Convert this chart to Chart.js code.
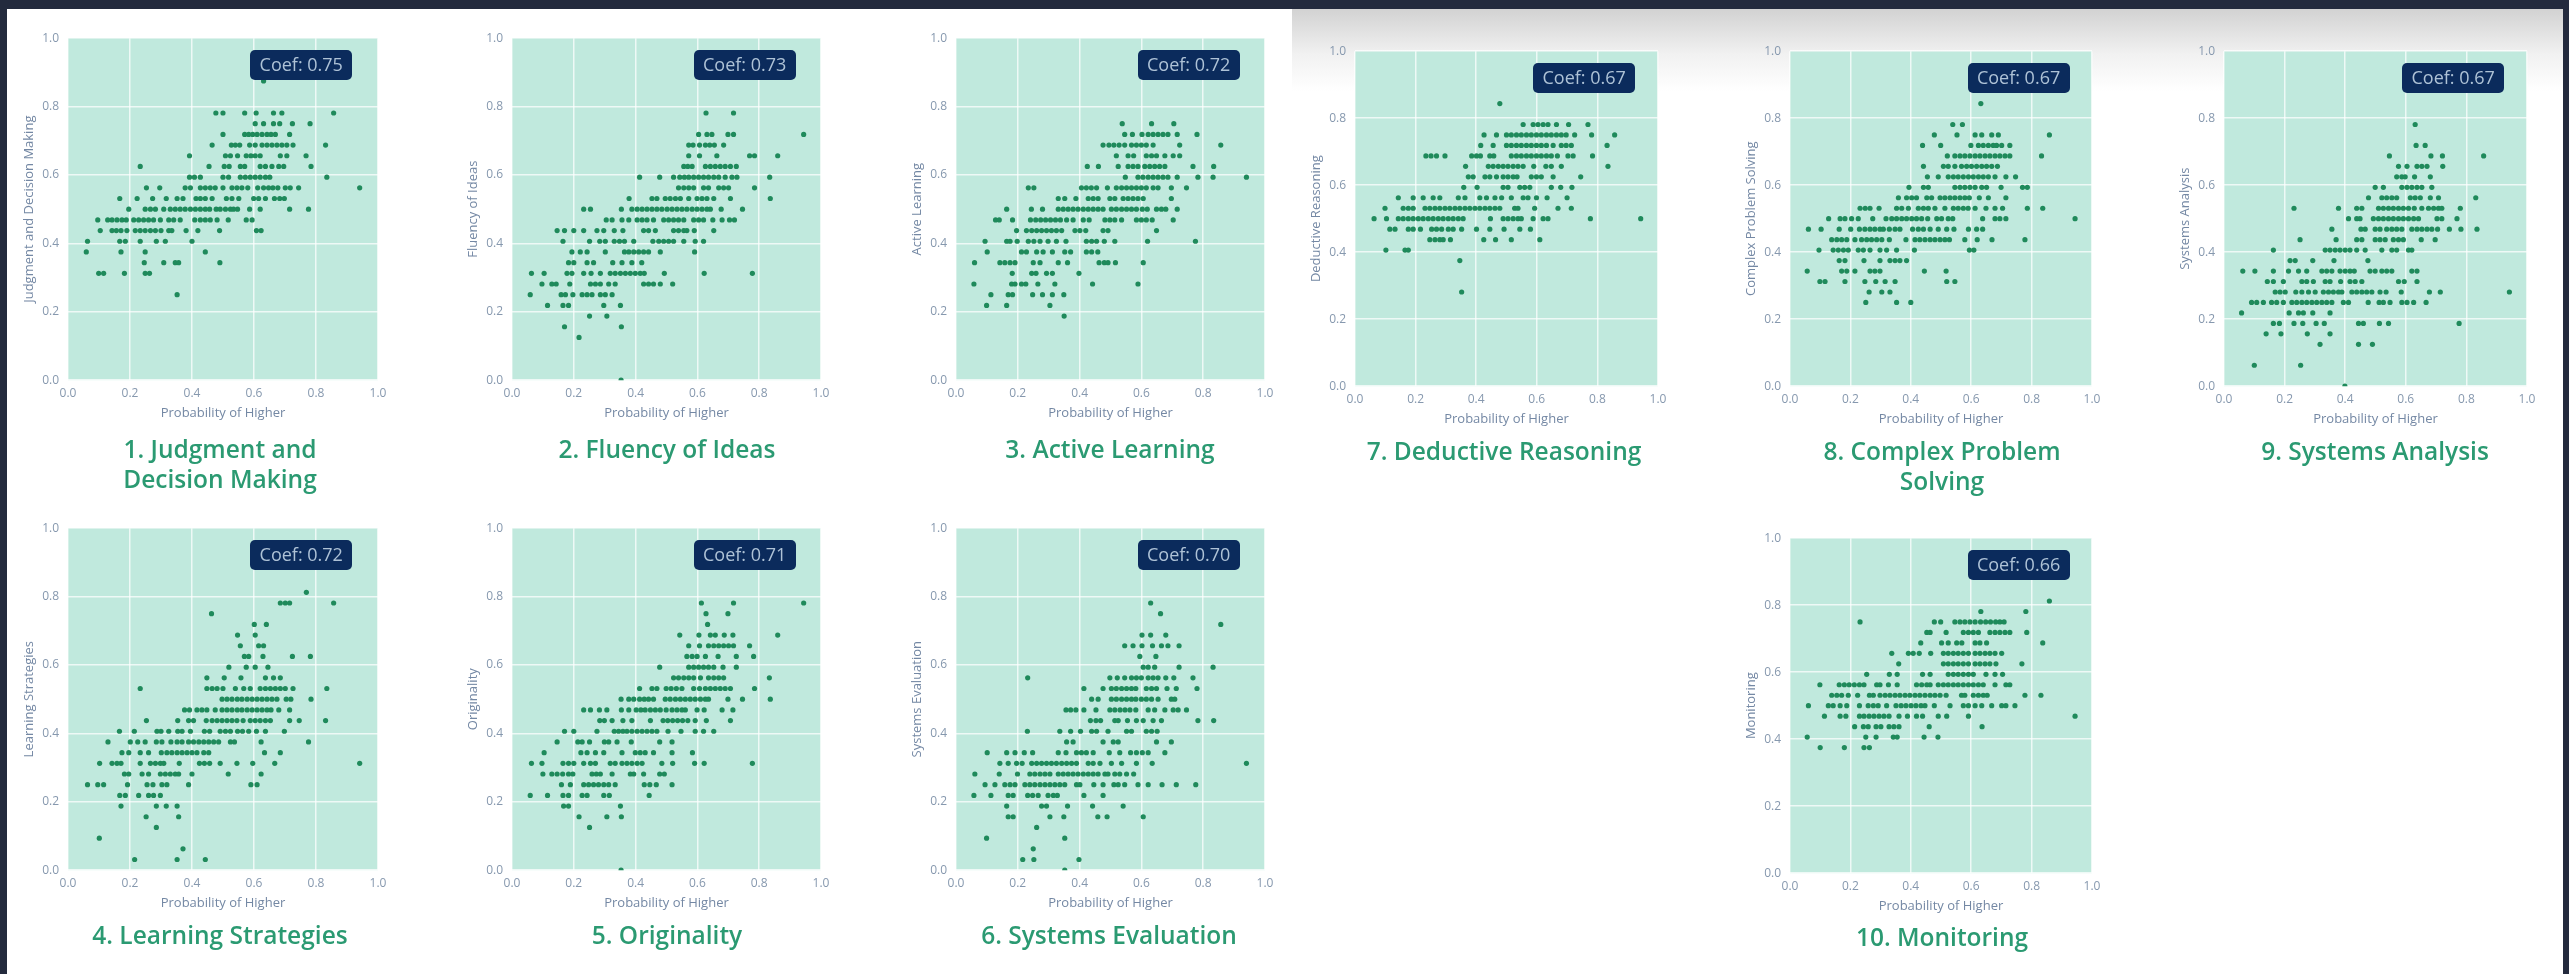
<!DOCTYPE html>
<html>
<head>
<meta charset="utf-8">
<script src="https://cdn.jsdelivr.net/npm/chart.js"></script>
<style>
  html, body { margin: 0; padding: 0; background: #fff; }
  body { position: relative; width: 2569px; height: 974px; overflow: hidden; font-family: "Open Sans", sans-serif; }
  .frame { position: absolute; background: #232a3d; }
  #shadow { position: absolute; left: 1292px; top: 9px; width: 1271px; height: 82px;
            background: linear-gradient(#d2d2d2, #f1f1f1 55%, #fff); }
  canvas { position: absolute; filter: blur(.6px); }
  .badge { position: absolute; box-sizing: border-box; background: #0b2b5c; color: #aec2d6; border-radius: 5px;
           font-size: 18px; text-align: center; filter: blur(.5px); }
  .name { position: absolute; width: 400px; text-align: center; color: #2b9a72; font-size: 24.5px; font-weight: 600;
          line-height: 30px; filter: blur(.5px); }
</style>
</head>
<body>
<div id="shadow"></div>
<div class="frame" style="left:0;top:0;width:2569px;height:9px"></div>
<div class="frame" style="left:0;top:0;width:7px;height:974px"></div>
<div class="frame" style="left:2563px;top:0;width:6px;height:974px"></div>

<script>

const xAxisName = 'Probability of Higher';
const names = ['Judgment and Decision Making', 'Fluency of Ideas', 'Active Learning', 'Learning Strategies', 'Originality',
  'Systems Evaluation', 'Deductive Reasoning', 'Complex Problem Solving', 'Systems Analysis', 'Monitoring'];
const titles = [['1. Judgment and', 'Decision Making'], ['2. Fluency of Ideas'], ['3. Active Learning'], ['4. Learning Strategies'],
  ['5. Originality'], ['6. Systems Evaluation'], ['7. Deductive Reasoning'], ['8. Complex Problem', 'Solving'],
  ['9. Systems Analysis'], ['10. Monitoring']];
const coefs = ['0.75', '0.73', '0.72', '0.72', '0.71', '0.70', '0.67', '0.67', '0.67', '0.66'];

// every row is [y, x values at that y]
const judgmentRows = [
  [.875, [.631]],
  [.78125, [.477,.5,.57,.607,.663,.69,.857]],
  [.75, [.604,.631,.663,.683,.724,.781]],
  [.71875, [.5,.57,.583,.596,.61,.626,.642,.655,.669,.715]],
  [.6875, [.465,.527,.54,.554,.586,.604,.626,.642,.658,.674,.69,.706,.726,.831]],
  [.65625, [.392,.508,.524,.547,.575,.59,.604,.62,.685,.706,.768]],
  [.625, [.233,.455,.504,.52,.556,.57,.62,.637,.658,.68,.696,.784]],
  [.59375, [.392,.408,.427,.5,.518,.556,.572,.588,.604,.62,.637,.651,.835]],
  [.5625, [.253,.296,.378,.395,.427,.443,.459,.475,.5,.529,.545,.561,.58,.612,.631,.647,.661,.677,.701,.717,.744,.941]],
  [.53125, [.167,.223,.273,.317,.352,.371,.413,.427,.443,.465,.511,.529,.551,.599,.615,.637,.666,.683,.698]],
  [.5, [.196,.249,.266,.282,.309,.33,.346,.362,.378,.395,.411,.427,.443,.457,.478,.491,.508,.524,.534,.547,.586,.62,.715,.776]],
  [.46875, [.096,.128,.142,.158,.174,.188,.212,.228,.244,.26,.276,.298,.325,.341,.362,.409,.427,.443,.459,.481,.517,.575,.594]],
  [.4375, [.104,.142,.156,.171,.19,.217,.233,.249,.266,.282,.3,.325,.335,.381,.419,.489,.608,.623]],
  [.40625, [.063,.167,.185,.233,.285,.314,.4]],
  [.375, [.059,.171,.249,.443]],
  [.34375, [.246,.309,.346,.357,.49]],
  [.3125, [.099,.115,.182,.249,.263]],
  [.25, [.352]]
];
const fluencyRows = [
  [.78125, [.628,.717]],
  [.71875, [.604,.631,.647,.699,.717,.944]],
  [.6875, [.572,.586,.607,.626,.64,.655,.685]],
  [.65625, [.572,.607,.663,.769,.785,.86]],
  [.625, [.556,.569,.583,.626,.642,.658,.674,.69,.707,.726]],
  [.59375, [.413,.478,.523,.543,.558,.572,.588,.604,.62,.636,.653,.669,.69,.712,.728,.834]],
  [.5625, [.539,.556,.572,.588,.62,.636,.669,.685,.701,.785]],
  [.53125, [.379,.453,.469,.496,.512,.529,.545,.572,.599,.615,.631,.653,.707,.836]],
  [.5, [.232,.254,.354,.388,.405,.421,.437,.453,.469,.485,.502,.518,.534,.55,.566,.583,.599,.615,.631,.642,.677,.746]],
  [.46875, [.305,.324,.356,.378,.405,.421,.437,.458,.491,.507,.523,.539,.556,.588,.604,.62,.65,.68,.704,.72]],
  [.4375, [.146,.17,.2,.232,.275,.297,.331,.359,.426,.442,.464,.523,.539,.556,.566,.59,.653]],
  [.40625, [.165,.251,.284,.302,.331,.348,.364,.394,.456,.475,.491,.507,.523,.556,.593,.62]],
  [.375, [.194,.221,.243,.302,.364,.378,.394,.41,.426,.442,.48,.591]],
  [.34375, [.183,.2,.243,.264,.326,.356,.388,.42]],
  [.3125, [.063,.104,.178,.194,.232,.256,.286,.318,.334,.351,.367,.383,.399,.415,.428,.493,.622,.778]],
  [.28125, [.097,.129,.143,.187,.254,.27,.286,.313,.334,.426,.442,.458,.48,.52]],
  [.25, [.059,.159,.173,.197,.227,.243,.259,.286,.302,.324]],
  [.21875, [.115,.165,.183,.297,.351]],
  [.1875, [.251,.307]],
  [.15625, [.17,.354]],
  [.125, [.217]],
  [0, [.353]]
];
const activeRows = [
  [.75, [.538,.633,.705]],
  [.71875, [.546,.571,.602,.622,.638,.654,.67,.686,.716,.78]],
  [.6875, [.476,.495,.511,.528,.546,.568,.584,.6,.616,.638,.724,.857]],
  [.65625, [.519,.557,.575,.616,.633,.649,.676,.703,.724]],
  [.625, [.425,.461,.525,.557,.573,.589,.611,.627,.643,.659,.676,.767,.834]],
  [.59375, [.548,.589,.605,.622,.638,.654,.67,.686,.716,.783,.832,.94]],
  [.5625, [.234,.252,.406,.422,.438,.455,.49,.519,.536,.552,.568,.584,.6,.616,.638,.654,.697,.746]],
  [.53125, [.331,.352,.388,.428,.444,.46,.498,.514,.541,.557,.573,.589,.606,.697]],
  [.5, [.164,.244,.28,.331,.347,.363,.379,.395,.412,.428,.444,.46,.476,.503,.519,.536,.552,.568,.584,.603,.619,.649,.665,.679,.716]],
  [.46875, [.128,.14,.183,.241,.258,.274,.29,.306,.322,.338,.358,.379,.412,.431,.482,.498,.514,.536,.584,.6,.616,.635,.703]],
  [.4375, [.196,.228,.245,.261,.277,.293,.309,.325,.342,.385,.401,.42,.476,.492,.649]],
  [.40625, [.094,.164,.175,.198,.234,.252,.272,.298,.325,.356,.422,.439,.455,.48,.514,.62,.775]],
  [.375, [.101,.212,.228,.261,.282,.312,.352,.371,.422,.439,.459]],
  [.34375, [.06,.142,.158,.175,.191,.25,.272,.331,.361,.463,.48,.492,.516,.606]],
  [.3125, [.182,.245,.259,.293,.312,.398]],
  [.28125, [.058,.18,.191,.212,.226,.265,.32,.442,.589]],
  [.25, [.113,.169,.183,.248,.28,.312,.349]],
  [.21875, [.099,.164,.304]],
  [.1875, [.35]]
];
const strategiesRows = [
  [.8125, [.769]],
  [.78125, [.685,.701,.715,.857]],
  [.75, [.463]],
  [.71875, [.601,.64]],
  [.6875, [.547,.604]],
  [.65625, [.556,.615,.631]],
  [.625, [.569,.583,.629,.724,.782]],
  [.59375, [.519,.575,.604,.645]],
  [.5625, [.448,.504,.558,.637,.663,.685]],
  [.53125, [.233,.448,.465,.481,.5,.54,.567,.588,.62,.637,.653,.669,.685,.701,.726,.835]],
  [.5, [.497,.513,.529,.546,.561,.578,.594,.61,.626,.642,.658,.674,.704,.719,.784]],
  [.46875, [.376,.392,.416,.432,.448,.475,.497,.513,.529,.546,.561,.578,.594,.61,.626,.642,.655,.68,.715]],
  [.4375, [.253,.354,.389,.405,.446,.465,.481,.497,.513,.529,.545,.565,.588,.604,.62,.637,.653,.715,.746,.831]],
  [.40625, [.166,.214,.287,.3,.325,.354,.368,.395,.44,.457,.491,.508,.524,.547,.563,.583,.608,.637,.698]],
  [.375, [.129,.201,.225,.249,.285,.303,.332,.352,.368,.389,.405,.422,.438,.454,.47,.486,.524,.537,.623,.776]],
  [.34375, [.174,.196,.233,.26,.301,.319,.335,.352,.368,.384,.4,.416,.438,.454,.634,.685]],
  [.3125, [.102,.142,.158,.171,.233,.266,.282,.298,.309,.359,.424,.44,.457,.491,.545,.596,.667,.941]],
  [.28125, [.182,.196,.239,.26,.298,.314,.33,.346,.357,.4,.517,.623]],
  [.25, [.063,.096,.115,.192,.255,.274,.303,.319,.389,.59,.61]],
  [.21875, [.167,.185,.228,.26,.276,.298]],
  [.1875, [.171,.285,.317,.352]],
  [.15625, [.252,.357]],
  [.125, [.285]],
  [.09375, [.101]],
  [.0625, [.371]],
  [.03125, [.215,.352,.443]]
];
const originalityRows = [
  [.78125, [.613,.717,.944]],
  [.75, [.628,.699]],
  [.71875, [.633]],
  [.6875, [.543,.605,.642,.658,.687,.715,.86]],
  [.65625, [.572,.607,.636,.653,.669,.685,.701,.717,.769]],
  [.625, [.566,.583,.599,.626,.667,.726,.782]],
  [.59375, [.478,.572,.588,.604,.62,.636,.653,.683,.726]],
  [.5625, [.523,.539,.556,.572,.588,.61,.636,.653,.669,.685,.833]],
  [.53125, [.413,.453,.469,.499,.515,.532,.55,.588,.607,.626,.642,.658,.674,.69,.707,.785]],
  [.5, [.353,.378,.394,.413,.428,.442,.458,.496,.512,.529,.545,.561,.577,.593,.61,.626,.636,.699,.746,.836]],
  [.46875, [.232,.254,.283,.307,.354,.378,.402,.417,.431,.448,.464,.48,.499,.518,.534,.55,.561,.599,.622,.68,.715]],
  [.4375, [.284,.299,.324,.359,.388,.448,.489,.504,.52,.536,.552,.569,.593,.629,.707]],
  [.40625, [.17,.2,.275,.331,.345,.359,.372,.388,.405,.421,.437,.453,.469,.505,.547,.593,.62,.653]],
  [.375, [.146,.213,.227,.251,.299,.313,.34,.386,.478,.518]],
  [.34375, [.104,.223,.243,.27,.297,.356,.399,.415,.431,.458,.518,.584]],
  [.3125, [.063,.097,.165,.183,.2,.232,.254,.27,.318,.334,.356,.372,.388,.405,.421,.485,.52,.591,.622,.778]],
  [.28125, [.1,.129,.146,.164,.183,.197,.259,.273,.286,.324,.383,.394,.426,.478,.493]],
  [.25, [.16,.189,.232,.248,.264,.28,.297,.313,.334,.428,.446,.467,.518]],
  [.21875, [.059,.115,.165,.183,.227,.243,.297,.315,.444]],
  [.1875, [.167,.183,.351]],
  [.15625, [.217,.307,.354]],
  [.125, [.251]],
  [0, [.353]]
];
const evaluationRows = [
  [.78125, [.63]],
  [.75, [.662]],
  [.71875, [.857]],
  [.6875, [.602,.63,.679]],
  [.65625, [.546,.573,.602,.636,.665,.686,.722]],
  [.625, [.595,.647]],
  [.59375, [.606,.622,.643,.722,.832]],
  [.5625, [.232,.498,.522,.546,.568,.584,.6,.622,.638,.654,.679,.705,.767]],
  [.53125, [.414,.476,.503,.519,.536,.552,.568,.582,.616,.633,.649,.683,.713,.78]],
  [.5, [.439,.46,.503,.519,.536,.552,.568,.582,.6,.616,.633,.654,.697,.708]],
  [.46875, [.356,.371,.388,.414,.453,.498,.514,.531,.547,.563,.582,.622,.643,.676,.703,.719,.746]],
  [.4375, [.435,.453,.468,.514,.525,.555,.584,.606,.638,.665,.783,.834]],
  [.40625, [.231,.336,.371,.403,.439,.455,.492,.552,.568,.616,.633,.651]],
  [.375, [.358,.379,.476,.509,.525,.649,.697]],
  [.34375, [.101,.164,.191,.221,.248,.331,.356,.39,.406,.422,.444,.496,.53,.565,.584,.603,.622,.676]],
  [.3125, [.142,.169,.196,.214,.245,.261,.277,.293,.309,.325,.342,.358,.374,.39,.428,.444,.466,.503,.536,.584,.635,.94]],
  [.28125, [.061,.14,.199,.239,.255,.272,.288,.304,.331,.347,.363,.379,.395,.412,.428,.444,.46,.482,.492,.514,.53,.552,.575]],
  [.25, [.094,.126,.158,.175,.191,.223,.239,.255,.272,.288,.304,.32,.336,.352,.39,.401,.446,.476,.511,.525,.546,.589,.622,.667,.713,.776]],
  [.21875, [.058,.113,.169,.185,.232,.248,.266,.298,.315,.328,.414,.476]],
  [.1875, [.164,.277,.293,.361,.442,.541]],
  [.15625, [.169,.185,.304,.349,.459,.489,.606]],
  [.125, [.261]],
  [.09375, [.099,.352]],
  [.0625, [.25]],
  [.03125, [.216,.252,.398]],
  [0, [.352]]
];
const reasoningRows = [
  [.84375, [.478]],
  [.78125, [.555,.588,.604,.621,.637,.665,.705,.769]],
  [.75, [.426,.467,.5,.516,.533,.549,.566,.582,.599,.615,.632,.648,.665,.681,.697,.725,.781,.857]],
  [.71875, [.415,.456,.5,.516,.533,.549,.566,.582,.599,.615,.632,.654,.681,.697,.714,.832]],
  [.6875, [.234,.251,.269,.297,.385,.401,.414,.445,.458,.516,.533,.549,.566,.582,.599,.615,.632,.648,.668,.703,.72,.784]],
  [.65625, [.365,.44,.456,.473,.489,.505,.522,.538,.555,.59,.63,.648,.681,.835]],
  [.625, [.374,.39,.429,.445,.467,.489,.505,.522,.535,.582,.599,.615,.654,.745]],
  [.59375, [.359,.403,.489,.505,.544,.56,.577,.648,.679,.716]],
  [.5625, [.143,.192,.225,.258,.28,.341,.363,.412,.434,.462,.484,.516,.555,.571,.599,.634,.7]],
  [.53125, [.099,.159,.176,.192,.231,.247,.264,.28,.297,.313,.33,.346,.363,.379,.396,.412,.429,.445,.462,.478,.527,.538,.593,.67,.714]],
  [.5, [.063,.104,.143,.159,.176,.192,.209,.225,.242,.258,.275,.291,.308,.324,.341,.357,.447,.489,.505,.522,.538,.549,.588,.621,.637,.777,.943]],
  [.46875, [.115,.132,.176,.192,.216,.253,.269,.286,.308,.324,.352,.401,.445,.492,.544,.579]],
  [.4375, [.247,.264,.28,.291,.315,.425,.464,.516,.61]],
  [.40625, [.102,.165,.176]],
  [.375, [.346]],
  [.28125, [.352]]
];
const problemRows = [
  [.84375, [.632]],
  [.78125, [.539,.571]],
  [.75, [.478,.553,.613,.635,.668,.69,.859]],
  [.71875, [.439,.499,.599,.624,.64,.657,.673,.684,.701,.728]],
  [.6875, [.521,.546,.563,.579,.596,.613,.629,.646,.662,.679,.695,.712,.728,.833]],
  [.65625, [.442,.508,.524,.546,.568,.585,.601,.618,.635,.651,.668,.687]],
  [.625, [.455,.491,.524,.541,.557,.574,.591,.607,.624,.64,.657,.679,.715,.747]],
  [.59375, [.394,.442,.458,.546,.563,.579,.596,.613,.635,.651,.699,.77,.786]],
  [.5625, [.359,.386,.403,.419,.453,.469,.497,.513,.53,.546,.563,.579,.594,.627,.657,.715]],
  [.53125, [.232,.249,.265,.295,.353,.37,.392,.425,.442,.458,.48,.513,.541,.557,.574,.59,.613,.649,.679,.704,.786,.837]],
  [.5, [.128,.166,.182,.204,.226,.274,.318,.337,.353,.37,.386,.403,.419,.436,.456,.486,.502,.524,.539,.638,.679,.695,.715,.944]],
  [.46875, [.061,.103,.163,.201,.23,.248,.265,.281,.298,.309,.329,.348,.364,.406,.425,.442,.464,.491,.519,.543,.591,.618,.638]],
  [.4375, [.138,.155,.171,.188,.215,.237,.254,.27,.287,.304,.329,.384,.414,.43,.447,.464,.48,.497,.513,.528,.579,.62,.669,.778]],
  [.40625, [.096,.143,.16,.177,.193,.226,.243,.265,.298,.32,.353,.412,.594,.609]],
  [.375, [.163,.182,.245,.298,.331,.348,.364,.386]],
  [.34375, [.057,.171,.188,.215,.265,.281,.298,.445,.517]],
  [.3125, [.099,.116,.182,.248,.284,.315,.348,.519,.546]],
  [.28125, [.262,.304,.331]],
  [.25, [.251,.353,.4]]
];
const analysisRows = [
  [.78125, [.631]],
  [.71875, [.634,.664]],
  [.6875, [.546,.683,.721,.857]],
  [.65625, [.576,.604,.637,.653,.67,.722]],
  [.625, [.57,.587,.598,.629,.681]],
  [.59375, [.499,.526,.587,.604,.62,.637,.653,.686]],
  [.5625, [.477,.521,.537,.554,.57,.615,.631,.648,.681,.708,.831]],
  [.53125, [.231,.378,.438,.455,.51,.526,.543,.559,.576,.592,.609,.628,.653,.675,.692,.708,.719,.78]],
  [.5, [.411,.438,.449,.493,.51,.526,.543,.559,.576,.592,.609,.626,.642,.703,.719,.769]],
  [.46875, [.356,.452,.466,.499,.515,.537,.554,.57,.587,.62,.637,.653,.67,.686,.705,.744,.782,.835]],
  [.4375, [.251,.37,.438,.455,.499,.515,.532,.559,.576,.592,.651,.697]],
  [.40625, [.163,.334,.35,.367,.383,.4,.416,.438,.466,.521,.554,.57,.609,.62]],
  [.375, [.218,.235,.293,.363,.475]],
  [.34375, [.062,.102,.163,.213,.246,.273,.323,.339,.356,.383,.4,.416,.43,.482,.499,.521,.537,.554,.62,.637]],
  [.3125, [.143,.163,.196,.257,.273,.295,.334,.35,.385,.416,.433,.455,.576,.595,.637]],
  [.28125, [.169,.185,.202,.237,.257,.279,.301,.328,.345,.361,.378,.389,.422,.438,.455,.471,.488,.515,.535,.585,.678,.714,.942]],
  [.25, [.091,.108,.13,.157,.174,.196,.224,.24,.257,.273,.29,.306,.323,.339,.356,.394,.411,.476,.512,.526,.548,.587,.604,.626,.667]],
  [.21875, [.058,.215,.246,.262,.293,.35]],
  [.1875, [.163,.183,.231,.26,.304,.331,.444,.46,.513,.543,.776]],
  [.15625, [.139,.188,.275,.35]],
  [.125, [.317,.444,.49]],
  [.0625, [.1,.253]],
  [0, [.399]]
];
const monitoringRows = [
  [.8125, [.859]],
  [.78125, [.632,.781]],
  [.75, [.232,.478,.499,.546,.563,.579,.596,.613,.631,.648,.664,.681,.695,.709]],
  [.71875, [.453,.464,.517,.574,.591,.607,.624,.662,.679,.695,.712,.728,.784]],
  [.6875, [.433,.502,.524,.552,.569,.613,.629,.651,.837]],
  [.65625, [.337,.392,.408,.428,.466,.508,.524,.541,.557,.574,.591,.613,.629,.646,.662,.679,.701]],
  [.625, [.36,.508,.524,.541,.557,.574,.591,.613,.629,.646,.662,.682,.768]],
  [.59375, [.254,.329,.355,.439,.464,.524,.541,.557,.574,.591,.607,.649,.679,.704]],
  [.5625, [.099,.163,.18,.196,.213,.23,.245,.287,.298,.326,.355,.419,.436,.453,.464,.491,.508,.524,.541,.557,.574,.591,.607,.624,.64,.679,.715,.728]],
  [.53125, [.138,.155,.171,.193,.224,.263,.276,.298,.315,.331,.348,.364,.381,.397,.414,.43,.447,.464,.48,.497,.517,.568,.579,.607,.624,.64,.653,.778,.831]],
  [.5, [.061,.127,.143,.166,.188,.23,.259,.276,.292,.32,.351,.368,.384,.401,.417,.434,.447,.478,.53,.574,.591,.613,.635,.668,.701,.715,.745]],
  [.46875, [.114,.166,.185,.23,.245,.262,.278,.295,.311,.328,.361,.389,.419,.439,.491,.519,.591,.944]],
  [.4375, [.214,.243,.259,.285,.301,.328,.344,.361,.461,.636]],
  [.40625, [.057,.251,.285,.342,.355,.444,.49]],
  [.375, [.1,.18,.245,.263]]
];
const allRows = [judgmentRows, fluencyRows, activeRows, strategiesRows, originalityRows,
  evaluationRows, reasoningRows, problemRows, analysisRows, monitoringRows];

// where each plot sits in the screenshot: l, t, r, b of the plot area, then title centre x and y
const boxes = [
  [68, 38, 378, 380, 220, 464],
  [512, 38, 821, 380, 667, 449],
  [956, 38, 1265, 380, 1110, 449],
  [68, 528, 378, 870, 220, 935],
  [512, 528, 821, 870, 667, 935],
  [956, 528, 1265, 870, 1109, 935],
  [1355, 51, 1658, 386, 1504, 451],
  [1790, 51, 2092, 386, 1942, 466],
  [2224, 51, 2527, 386, 2375, 451],
  [1790, 538, 2092, 873, 1942, 937]
];

const plotBackground = {
  id: 'plotBackground',
  beforeDraw(chart) {
    const a = chart.chartArea;
    chart.ctx.save();
    chart.ctx.fillStyle = '#c0e9dd';
    chart.ctx.fillRect(a.left, a.top, a.width, a.height);
    chart.ctx.restore();
  }
};

function axisOptions(name, isX) {
  return {
    type: 'linear',
    min: 0,
    max: 1,
    grid: { color: 'rgba(255,255,255,.72)', lineWidth: 1.5, drawTicks: false },
    border: { display: false },
    ticks: { stepSize: 0.2, padding: isX ? 6 : 9, color: '#8698ae', maxRotation: 0, font: { family: 'Open Sans', size: 12 },
      callback: v => v.toFixed(1) },
    title: { display: true, text: name, color: '#7488a4', font: { family: 'Open Sans', size: 13 },
      padding: isX ? { top: 0, bottom: 5 } : { top: 3, bottom: 0 } },
    afterFit(scale) {
      if (isX) scale.height = 46; else scale.width = 50;
    }
  };
}

allRows.forEach(function(rows, i) {
  const [l, t, r, b, cx, cy] = boxes[i];
  const canvas = document.createElement('canvas');
  canvas.width = r - l + 62;
  canvas.height = b - t + 54;
  document.body.appendChild(canvas);

  const points = rows.flatMap(row => row[1].map(x => ({ x: x, y: row[0] })));
  const chart = new Chart(canvas, {
    type: 'scatter',
    data: { datasets: [{ data: points, backgroundColor: '#1f8a5b', borderWidth: 0, pointRadius: 2.6 }] },
    options: {
      responsive: false,
      maintainAspectRatio: false,
      animation: false,
      layout: { autoPadding: false, padding: { top: 8, right: 12 } },
      plugins: { legend: { display: false }, tooltip: { enabled: false } },
      scales: { x: axisOptions(xAxisName, true), y: axisOptions(names[i], false) }
    },
    plugins: [plotBackground]
  });

  // size the canvas so that the plot area lands on the box
  const a = chart.chartArea;
  chart.resize(canvas.width + (r - l) - a.width, canvas.height + (b - t) - a.height);
  const canvasLeft = l - chart.chartArea.left;
  const canvasTop = t - chart.chartArea.top;
  canvas.style.left = canvasLeft + 'px';
  canvas.style.top = canvasTop + 'px';

  const badge = document.createElement('div');
  badge.className = 'badge';
  badge.textContent = 'Coef: ' + coefs[i];
  badge.style.left = (canvasLeft + chart.scales.x.getPixelForValue(0.588)) + 'px';
  badge.style.top = (canvasTop + chart.scales.y.getPixelForValue(0.964)) + 'px';
  badge.style.width = '102px';
  badge.style.height = '30px';
  badge.style.lineHeight = '29px';
  document.body.appendChild(badge);

  const name = document.createElement('div');
  name.className = 'name';
  name.innerHTML = titles[i].join('<br>');
  name.style.left = (cx - 200) + 'px';
  name.style.top = (cy - 15 * titles[i].length) + 'px';
  document.body.appendChild(name);
});

</script>
</body>
</html>
